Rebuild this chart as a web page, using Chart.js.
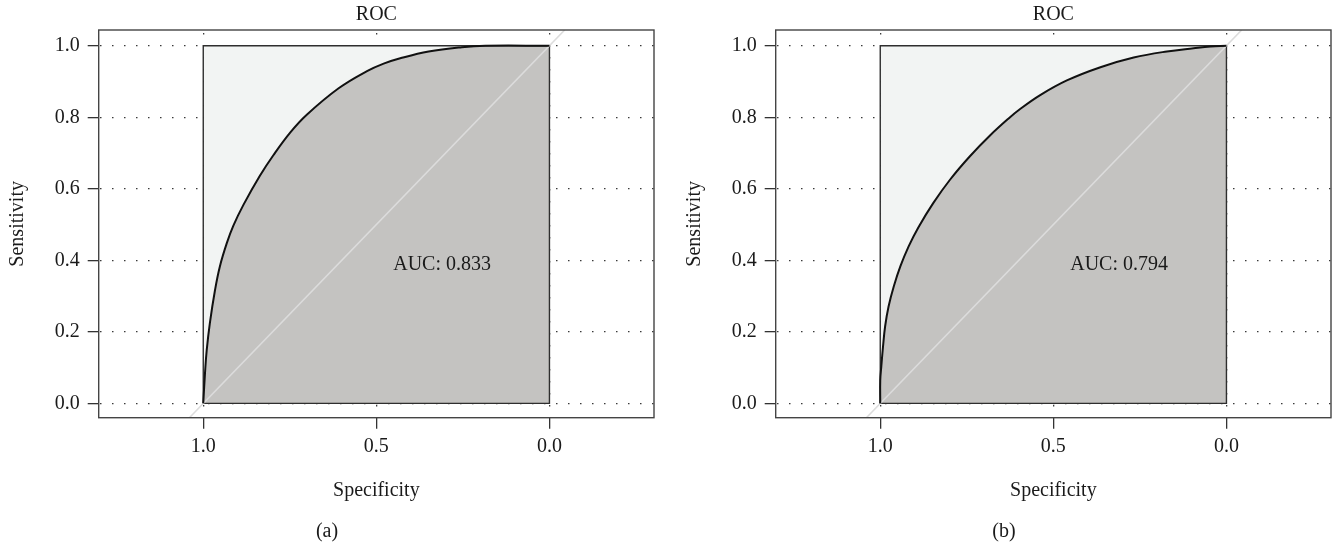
<!DOCTYPE html>
<html>
<head>
<meta charset="utf-8">
<script src="https://cdn.jsdelivr.net/npm/chart.js@4.4.1/dist/chart.umd.min.js"></script>
<style>
  html, body { margin: 0; padding: 0; background: #ffffff; }
  #wrap { position: relative; width: 1335px; height: 546px; overflow: hidden; }
  canvas { position: absolute; top: 0; }
</style>
</head>
<body>
<div id="wrap">
  <canvas id="cA" width="660" height="546" style="left:0px"></canvas>
  <canvas id="cB" width="658" height="546" style="left:677px"></canvas>
</div>
<script>
// ---------- data ----------
const panelLabels = ['(a)', '(b)'];
const aucLabels = ['AUC: 0.833', 'AUC: 0.794'];
const xTickValues = [1.0, 0.5, 0.0];
const yTickValues = [0.0, 0.2, 0.4, 0.6, 0.8, 1.0];

// panel (a) smoothed ROC curve
const specA = [1.000, 0.995, 0.990, 0.981, 0.966, 0.952, 0.932, 0.913, 0.884, 0.836, 0.798, 0.749, 0.701, 0.609, 0.527, 0.479, 0.431, 0.349, 0.253, 0.185, 0.000];
const sensA = [0.000, 0.084, 0.149, 0.224, 0.317, 0.383, 0.448, 0.497, 0.555, 0.637, 0.693, 0.757, 0.807, 0.881, 0.929, 0.950, 0.965, 0.984, 0.996, 1.000, 1.000];

// panel (b) smoothed ROC curve
const specB = [1.000, 1.000, 0.997, 0.992, 0.986, 0.976, 0.961, 0.942, 0.918, 0.890, 0.847, 0.798, 0.741, 0.683, 0.630, 0.596, 0.538, 0.461, 0.364, 0.268, 0.172, 0.095, 0.046, 0.000];
const sensB = [0.000, 0.065, 0.103, 0.159, 0.215, 0.271, 0.327, 0.383, 0.439, 0.492, 0.560, 0.626, 0.691, 0.749, 0.796, 0.823, 0.862, 0.903, 0.940, 0.967, 0.984, 0.993, 0.998, 1.000];

// max-AUC square and chance diagonal
const squareSpec = [1, 1, 0, 0, 1];
const squareSens = [0, 1, 1, 0, 0];
const diagSpec = [1.04, -0.044];
const diagSens = [-0.04, 1.044];

// ---------- drawing ----------
const FONT = '"Liberation Serif", "DejaVu Serif", "Times New Roman", serif';
const pts = (xs, ys) => xs.map((x, i) => ({ x: x, y: ys[i] }));

const boxPlugin = {
  id: 'plotBox',
  afterDraw(chart) {
    const { ctx, chartArea: a } = chart;
    ctx.save();
    ctx.strokeStyle = '#444';
    ctx.lineWidth = 1.4;
    ctx.strokeRect(a.left, a.top, a.right - a.left, a.bottom - a.top);
    ctx.restore();
  }
};

const aucTextPlugin = {
  id: 'aucText',
  afterDatasetsDraw(chart, args, opts) {
    const { ctx, scales } = chart;
    ctx.save();
    ctx.font = '20px ' + FONT;
    ctx.fillStyle = '#1a1a1a';
    ctx.textAlign = 'center';
    ctx.textBaseline = 'middle';
    ctx.fillText(opts.text, scales.x.getPixelForValue(opts.x), scales.y.getPixelForValue(opts.y));
    ctx.restore();
  }
};

function makeChart(canvasId, spec, sens, auc, panel, padRight) {
  const gridCommon = {
    color: '#3a3a3a',
    lineWidth: 1.3,
    tickLength: 11,
    tickColor: '#333',
    tickWidth: 1.3,
    tickBorderDash: []
  };
  return new Chart(document.getElementById(canvasId), {
    type: 'line',
    data: {
      datasets: [
        { // curve line on top
          data: pts(spec, sens), borderColor: '#111', borderWidth: 2, pointRadius: 0,
          fill: false, tension: 0.4, order: 0
        },
        { // chance diagonal
          data: pts(diagSpec, diagSens), borderColor: '#dcdcdc', borderWidth: 1.6, pointRadius: 0,
          fill: false, tension: 0, order: 1
        },
        { // square border
          data: pts(squareSpec, squareSens), borderColor: '#2e2e2e', borderWidth: 1.4, pointRadius: 0,
          fill: false, tension: 0, order: 2
        },
        { // AUC area
          data: pts(spec, sens), borderWidth: 0, borderColor: 'rgba(0,0,0,0)', pointRadius: 0,
          backgroundColor: '#c4c3c1', fill: 'origin', tension: 0.4, order: 3
        },
        { // max AUC square fill
          data: pts(squareSpec.slice(1, 3), squareSens.slice(1, 3)), borderWidth: 0, borderColor: 'rgba(0,0,0,0)',
          pointRadius: 0, backgroundColor: '#f2f4f3', fill: 'origin', tension: 0, order: 4
        }
      ]
    },
    options: {
      responsive: false,
      animation: false,
      devicePixelRatio: 1,
      events: [],
      layout: { padding: { left: 0, right: padRight, top: 0, bottom: 0 } },
      scales: {
        x: {
          type: 'linear', reverse: true, min: -0.302, max: 1.302,
          afterBuildTicks: s => { s.ticks = xTickValues.map(v => ({ value: v })); },
          afterFit: s => { s.height = 101.8; },
          ticks: {
            callback: v => Number(v).toFixed(1), color: '#1a1a1a', padding: 6,
            autoSkip: false, maxRotation: 0, font: { family: FONT, size: 20 }
          },
          grid: gridCommon,
          border: { display: false, dash: [1.5, 10.5], dashOffset: 9 },
          title: {
            display: true, text: 'Specificity', color: '#1a1a1a',
            font: { family: FONT, size: 20 }, padding: { top: 0, bottom: 16.5 }
          }
        },
        y: {
          type: 'linear', min: -0.04, max: 1.044,
          afterBuildTicks: s => { s.ticks = yTickValues.map(v => ({ value: v })); },
          afterFit: s => { s.width = 98.7; },
          ticks: {
            callback: v => Number(v).toFixed(1), color: '#1a1a1a', padding: 8,
            autoSkip: false, font: { family: FONT, size: 20 }
          },
          grid: gridCommon,
          border: { display: false, dash: [1.5, 10.5], dashOffset: 11 },
          title: {
            display: true, text: 'Sensitivity', color: '#1a1a1a',
            font: { family: FONT, size: 20 }, padding: { top: 6, bottom: 0 }
          }
        }
      },
      plugins: {
        legend: { display: false },
        tooltip: { enabled: false },
        title: {
          display: true, text: 'ROC', fullSize: false, color: '#1a1a1a',
          font: { family: FONT, size: 20, weight: 'normal' }, padding: { top: 3, bottom: 3 }
        },
        subtitle: {
          display: true, text: panel, position: 'bottom', fullSize: true, color: '#1a1a1a',
          font: { family: FONT, size: 20, weight: 'normal' }, padding: { top: 0, bottom: 2.5 }
        },
        aucText: { text: auc, x: 0.31, y: 0.387 }
      }
    },
    plugins: [boxPlugin, aucTextPlugin]
  });
}

makeChart('cA', specA, sensA, aucLabels[0], panelLabels[0], 6);
makeChart('cB', specB, sensB, aucLabels[1], panelLabels[1], 4);
</script>
</body>
</html>
